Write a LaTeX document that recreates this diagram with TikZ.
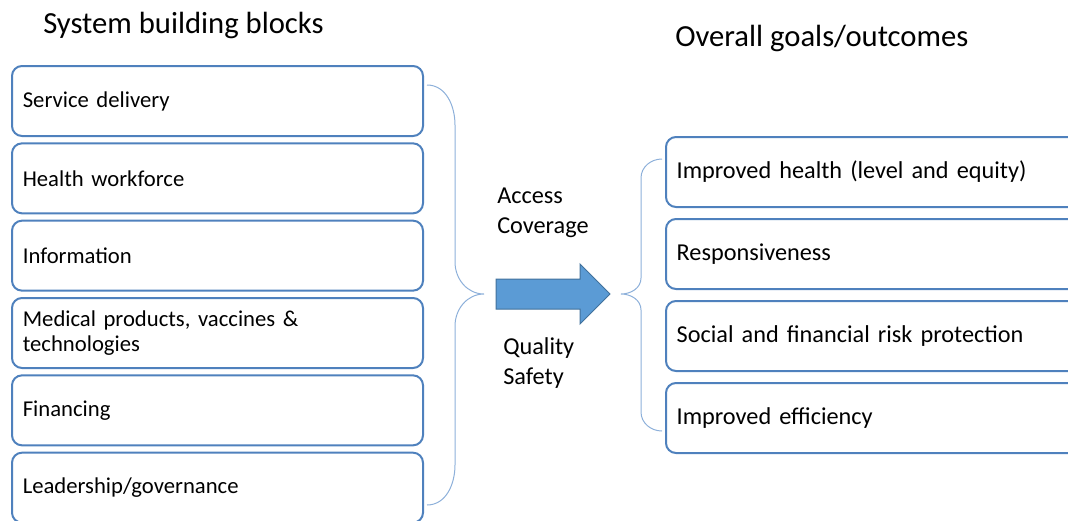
\documentclass[tikz,border=0pt]{standalone}
\usepackage{fontspec}
\setmainfont{Carlito}
\usetikzlibrary{positioning, calc}

\definecolor{boxblue}{RGB}{79,129,189}
\definecolor{bracecol}{RGB}{141,176,218}
\definecolor{arrowfill}{RGB}{91,155,213}
\definecolor{arrowline}{RGB}{65,113,156}

\begin{document}
\begin{tikzpicture}[
      x=0.75pt, y=-0.75pt,
      every node/.style={inner sep=0pt, font=\fontsize{17}{19}\selectfont},
      block/.style={draw=boxblue, line width=1.5pt, rounded corners=7.5pt, fill=white,
        minimum width=308.25pt, minimum height=52.5pt, text width=292pt,
        inner xsep=8pt, align=left},
      goal/.style={block, minimum width=315pt, text width=299pt,
        font=\fontsize{18.2}{20}\selectfont},
      brace/.style={draw=bracecol, line width=0.75pt},
      heading/.style={anchor=base west, font=\fontsize{23}{27}\selectfont},
      flow/.style={anchor=west, align=left, font=\fontsize{18.2}{22.5}\selectfont}
    ]
      \useasboundingbox (0,0) rectangle (1068,521);
      \clip (0,0) rectangle (1068,521);

      % building blocks
      \node[heading] (blocks) at (43,33) {System building blocks};
      \node[block] (sd) at (217.5,101) {Service delivery};
      \node[block, below=4pt of sd] (hw) {Health workforce};
      \node[block, below=4pt of hw] (info) {Information};
      \node[block, below=4pt of info] (med) {Medical products, vaccines \&\\technologies};
      \node[block, below=4pt of med] (fin) {Financing};
      \node[block, below=4pt of fin] (lead) {Leadership/governance};

      % goals
      \node[heading] (goals) at (675,46) {Overall goals/outcomes};
      \node[goal] (health) at (876,172) {Improved health (level and equity)};
      \node[goal, below=7.5pt of health] (resp) {Responsiveness};
      \node[goal, below=7.5pt of resp] (risk) {Social and financial risk protection};
      \node[goal, below=7.5pt of risk] (eff) {Improved efficiency};

      % braces
      \coordinate (ltop) at (427,85);
      \coordinate (ltip) at (484,294);
      \coordinate (lbot) at (427,505);
      \draw[brace] (ltop) to[out=0, in=90] (455,125) -- (455,262)
        to[out=-90, in=180] (ltip) to[out=180, in=90] (455,326)
        -- (455,465) to[out=-90, in=0] (lbot);

      \coordinate (rtop) at (662,159);
      \coordinate (rtip) at (621,294);
      \coordinate (rbot) at (662,431);
      \draw[brace] (rtop) to[out=180, in=90] (641,178) -- (641,278)
        to[out=-90, in=0] (rtip) to[out=0, in=90] (641,310)
        -- (641,412) to[out=-90, in=180] (rbot);

      % big arrow
      \coordinate (arrtail) at (496,294);
      \draw[draw=arrowline, fill=arrowfill, line width=0.75pt]
        (arrtail) ++(0,-15) -- ++(84,0) -- ++(0,-15) -- ++(30,30)
        -- ++(-30,30) -- ++(0,-15) -- ++(-84,0) -- cycle;

      \node[flow] (access) at (497,213) {Access\\Coverage};
      \node[flow] (quality) at (503,363) {Quality\\Safety};
    \end{tikzpicture}
\end{document}
